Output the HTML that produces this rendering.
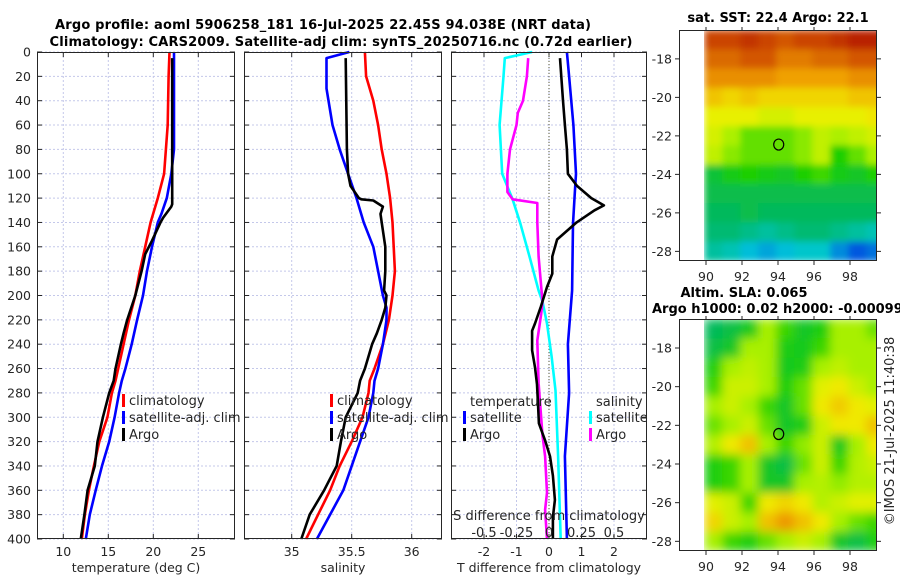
<!DOCTYPE html>
<html><head><meta charset="utf-8"><style>
html,body{margin:0;padding:0;background:#fff;}
svg{display:block;font-family:"DejaVu Sans","Liberation Sans",sans-serif;}
</style></head><body>
<svg id="fig" width="900" height="580" viewBox="0 0 900 580" xmlns="http://www.w3.org/2000/svg">
<defs>
<filter id="blurSst" x="0" y="0" width="1" height="1"><feGaussianBlur stdDeviation="3.5" edgeMode="duplicate"/></filter>
<filter id="blurSla" x="0" y="0" width="1" height="1"><feGaussianBlur stdDeviation="5" edgeMode="duplicate"/></filter>
<clipPath id="clipMap1"><rect x="704" y="30" width="173" height="231"/></clipPath>
<clipPath id="clipMap2"><rect x="704" y="319" width="173" height="232"/></clipPath>
</defs>
<text x="323" y="29" font-size="13" font-weight="bold" text-anchor="middle" textLength="536" fill="#000">Argo profile: aoml 5906258_181 16-Jul-2025 22.45S 94.038E (NRT data)</text>
<text x="341" y="46" font-size="13" font-weight="bold" text-anchor="middle" textLength="583" fill="#000">Climatology: CARS2009. Satellite-adj clim: synTS_20250716.nc (0.72d earlier)</text>
<text x="778" y="22" font-size="13" font-weight="bold" text-anchor="middle">sat. SST: 22.4 Argo: 22.1</text>
<text x="744" y="297" font-size="13" font-weight="bold" text-anchor="middle">Altim. SLA: 0.065</text>
<text x="652" y="313" font-size="13" font-weight="bold">Argo h1000: 0.02 h2000: -0.00099</text>
<text transform="translate(894,431) rotate(-90)" font-size="13" text-anchor="middle" fill="#262626">©IMOS 21-Jul-2025 11:40:38</text>
</svg>
<script>
// ---------- data ----------
const depthTicks = [0,20,40,60,80,100,120,140,160,180,200,220,240,260,280,300,320,340,360,380,400];
const tempTicks = [10,15,20,25];
const salTicks = [35,35.5,36];
const salTickLabels = ["35","35.5","36"];
const tdiffTicks = [-2,-1,0,1,2];
const sdiffTicks = [-0.5,-0.25,0,0.25,0.5];
const sdiffTickLabels = ["-0.5","-0.25","0","0.25","0.5"];

const tClimDepth = [0,20,60,100,120,140,160,180,200,220,240,260,270,280,300,320,340,360,380,400];
const tClimVal   = [21.8,21.7,21.6,21.2,20.5,19.7,19.1,18.5,18.0,17.3,16.7,16.1,15.8,15.4,14.9,14.0,13.4,12.85,12.4,12.05];
const tSatDepth = [0,80,100,120,133,140,160,180,200,220,240,260,270,280,300,320,340,360,380,400];
const tSatVal   = [22.3,22.3,22.0,21.5,20.9,20.5,19.85,19.3,18.85,18.2,17.6,16.9,16.5,16.2,15.7,15.1,14.3,13.6,12.95,12.5];
const tArgoDepth = [5,60,100,125,127,136,140,155,166,180,200,220,231,240,260,270,280,300,320,340,360,380,400];
const tArgoVal   = [22.1,22.1,22.1,22.1,22.0,21.1,20.8,19.85,19.1,18.7,18.0,17.1,16.7,16.4,15.8,15.6,15.1,14.4,13.8,13.5,12.7,12.35,11.95];

const sClimDepth = [0,20,40,60,80,100,120,140,160,180,200,220,240,260,270,280,300,320,340,360,380,400];
const sClimVal   = [35.61,35.62,35.68,35.72,35.75,35.79,35.82,35.84,35.85,35.86,35.84,35.81,35.76,35.69,35.65,35.64,35.59,35.50,35.40,35.32,35.22,35.12];
const sSatDepth = [0,5,30,60,80,100,120,140,160,180,200,210,220,240,260,270,280,300,320,340,360,380,400];
const sSatVal   = [35.48,35.29,35.29,35.34,35.40,35.47,35.54,35.60,35.68,35.72,35.76,35.79,35.79,35.76,35.72,35.69,35.68,35.64,35.57,35.50,35.43,35.32,35.21];
const sArgoDepth = [5,80,100,110,120,121,122,127,133,140,160,180,196,200,210,220,231,240,260,270,280,300,320,340,360,380,400];
const sArgoVal   = [35.45,35.46,35.47,35.49,35.56,35.58,35.68,35.76,35.74,35.75,35.78,35.78,35.77,35.79,35.78,35.75,35.71,35.67,35.61,35.57,35.55,35.45,35.41,35.375,35.27,35.15,35.08];

const dTSatDepth = [0,20,60,100,113,141,196,240,280,332,400];
const dTSatVal   = [0.55,0.62,0.75,0.83,0.8,0.74,0.71,0.58,0.62,0.49,0.55];
const dTArgoDepth = [5,40,60,80,100,110,120,126,130,140,154,168,182,193,209,223,229,245,259,273,289,305,319,332,348,368,382,400];
const dTArgoVal   = [0.34,0.43,0.49,0.55,0.58,0.86,1.3,1.69,1.4,0.85,0.25,0.1,0.1,-0.06,-0.25,-0.43,-0.52,-0.52,-0.43,-0.37,-0.34,-0.31,-0.12,0.03,0.12,0.18,0.12,0.12];
const dSSatDepth = [0,5,20,60,100,121,141,168,196,205,223,250,278,332,400];
const dSSatVal   = [-0.13,-0.34,-0.35,-0.38,-0.36,-0.28,-0.22,-0.15,-0.08,-0.05,-0.015,0.02,0.05,0.07,0.09];
const dSArgoDepth = [5,20,40,50,60,80,100,115,121,124,140,168,205,215,237,272,315,332,362,376,400];
const dSArgoVal   = [-0.16,-0.17,-0.2,-0.24,-0.25,-0.30,-0.32,-0.32,-0.28,-0.09,-0.09,-0.08,-0.05,-0.06,-0.09,-0.08,-0.05,-0.03,-0.015,-0.03,-0.015];

const mapLonTicks = [90,92,94,96,98];
const mapLatTicks = [-18,-20,-22,-24,-26,-28];
const gridLonStart = [89.9,90.9,91.9,92.9,93.9,94.9,95.9,96.9,97.9,98.9];
const gridLatTop = [-16.5,-17.5,-18.5,-19.5,-20.5,-21.5,-22.5,-23.5,-24.5,-25.5,-26.5,-27.5];
const sstValues = [
 [24.3,24.3,24.4,24.3,24.2,24.3,24.3,24.4,24.5,24.5],
 [24.1,24.1,24.2,24.2,24.0,24.0,24.1,24.1,24.2,24.2],
 [23.9,23.9,23.9,23.9,23.8,23.8,23.8,23.8,23.9,23.9],
 [23.6,23.5,23.6,23.5,23.5,23.5,23.5,23.5,23.6,23.6],
 [23.3,23.3,23.3,23.2,23.2,23.3,23.3,23.3,23.3,23.4],
 [23.2,23.0,22.8,22.8,22.8,22.9,23.1,23.0,23.1,23.2],
 [23.1,22.9,22.8,22.8,22.8,22.9,23.1,22.6,22.8,23.0],
 [22.3,22.5,22.6,22.5,22.4,22.6,22.7,22.5,22.4,22.6],
 [22.2,22.2,22.2,22.2,22.2,22.2,22.2,22.2,22.2,22.2],
 [22.1,22.1,22.2,22.1,22.1,22.1,22.1,22.1,22.1,22.1],
 [22.0,22.0,21.9,21.8,21.9,22.0,22.0,21.9,21.8,21.7],
 [21.8,21.7,21.5,21.4,21.5,21.6,21.6,21.3,21.1,21.2]];
const slaValues = [
 [0.40,0.42,0.46,0.55,0.50,0.45,0.48,0.55,0.55,0.52],
 [0.42,0.45,0.55,0.55,0.47,0.46,0.50,0.55,0.55,0.55],
 [0.48,0.55,0.57,0.55,0.46,0.47,0.55,0.57,0.55,0.55],
 [0.50,0.58,0.58,0.55,0.48,0.52,0.60,0.62,0.58,0.55],
 [0.55,0.58,0.55,0.50,0.45,0.52,0.62,0.65,0.62,0.60],
 [0.52,0.55,0.58,0.52,0.45,0.47,0.58,0.62,0.62,0.66],
 [0.56,0.62,0.66,0.55,0.50,0.54,0.58,0.46,0.55,0.62],
 [0.48,0.50,0.55,0.45,0.42,0.52,0.58,0.50,0.56,0.58],
 [0.48,0.50,0.55,0.45,0.45,0.55,0.56,0.54,0.56,0.56],
 [0.60,0.58,0.50,0.62,0.64,0.62,0.56,0.58,0.60,0.60],
 [0.64,0.58,0.55,0.66,0.70,0.66,0.62,0.55,0.52,0.50],
 [0.55,0.50,0.48,0.52,0.55,0.58,0.55,0.45,0.42,0.48]];
const argoLon = [94.04];
const argoLat = [-22.45];

// ---------- helpers ----------
const NS = "http://www.w3.org/2000/svg";
const svg = document.getElementById('fig');
function mk(tag, attrs, parent){
  const e = document.createElementNS(NS, tag);
  for (const k in attrs) e.setAttribute(k, attrs[k]);
  (parent||svg).appendChild(e);
  return e;
}
function lin(d0,d1,r0,r1){ return v => r0 + (v-d0)*(r1-r0)/(d1-d0); }
const Y0 = 52, Y1 = 539;
const yDepth = lin(0,400,Y0,Y1);
const GRID = "#c4c8ea";

function panel(name, x0, x1, xScale, xTicks, xLabels, title, yLabels){
  const g = mk('g', {});
  
  
  depthTicks.forEach(d => {
    const l = mk('line', {x1:x0, x2:x1, y1:yDepth(d), y2:yDepth(d), stroke:GRID, 'stroke-width':1, 'stroke-dasharray':'2,2'}, g);
    
    
    const t1 = mk('line', {x1:x0, x2:x0+5, y1:yDepth(d), y2:yDepth(d), stroke:'#262626'}, g);
    
    
    const t2 = mk('line', {x1:x1-5, x2:x1, y1:yDepth(d), y2:yDepth(d), stroke:'#262626'}, g);
    
    
    if (yLabels){
      const tx = mk('text', {x:x0-6, y:yDepth(d)+4.5, 'font-size':12.5, 'text-anchor':'end', fill:'#262626'}, g);
      tx.textContent = String(d);
      
      
    }
  });
  xTicks.forEach((v,i) => {
    const x = xScale(v);
    const l = mk('line', {x1:x, x2:x, y1:Y0, y2:Y1, stroke:GRID, 'stroke-width':1, 'stroke-dasharray':'2,2'}, g);
    
    
    const t = mk('line', {x1:x, x2:x, y1:Y1-5, y2:Y1, stroke:'#262626'}, g);
    
    
    const tt = mk('line', {x1:x, x2:x, y1:Y0, y2:Y0+5, stroke:'#262626'}, g);
    
    
    const tx = mk('text', {x:x, y:556, 'font-size':12.5, 'text-anchor':'middle', fill:'#262626'}, g);
    tx.textContent = xLabels[i];
    
    
  });
  const tl = mk('text', {x:(x0+x1)/2, y:572, 'font-size':12.5, 'text-anchor':'middle', fill:'#262626'}, g);
  tl.textContent = title;
  
  
  return g;
}
function frame(name, x0, x1){
  const r = mk('rect', {x:x0+0.5, y:Y0+0.5, width:x1-x0-1, height:Y1-Y0-1, fill:'none', stroke:'#262626', 'stroke-width':1});
  
  
}
function series(name, g, depths, vals, xScale, color){
  const pts = depths.map((d,i) => xScale(vals[i]).toFixed(1)+','+yDepth(d).toFixed(1)).join(' ');
  const p = mk('polyline', {points:pts, fill:'none', stroke:color, 'stroke-width':2.6, 'stroke-linejoin':'round'}, g);
  
  
}
function legendEntry(name, g, x, y, color, label){
  const b = mk('rect', {x:x, y:y-11, width:3, height:13, fill:color}, g);
  
  
  const t = mk('text', {x:x+7, y:y, 'font-size':13, fill:'#262626'}, g);
  t.textContent = label;
  
  
}

// ---------- panel 1: temperature ----------
const xT = lin(10,25,63.3,198.3);
const p1 = panel('temperature-panel', 37, 235, xT, tempTicks, tempTicks.map(String), 'temperature (deg C)', true);
series('temp-climatology-line', p1, tClimDepth, tClimVal, xT, '#ff0000');
series('temp-satellite-line', p1, tSatDepth, tSatVal, xT, '#0000ff');
series('temp-argo-line', p1, tArgoDepth, tArgoVal, xT, '#000000');
legendEntry('legend-climatology', p1, 122, 405, '#ff0000', 'climatology');
legendEntry('legend-satellite-adj', p1, 122, 422, '#0000ff', 'satellite-adj. clim');
legendEntry('legend-argo', p1, 122, 439, '#000000', 'Argo');
frame('temperature-frame', 37, 235);

// ---------- panel 2: salinity ----------
const xS = lin(35,36,291.7,411.7);
const p2 = panel('salinity-panel', 244, 442, xS, salTicks, salTickLabels, 'salinity', false);
series('sal-climatology-line', p2, sClimDepth, sClimVal, xS, '#ff0000');
series('sal-satellite-line', p2, sSatDepth, sSatVal, xS, '#0000ff');
series('sal-argo-line', p2, sArgoDepth, sArgoVal, xS, '#000000');
legendEntry('legend-climatology-2', p2, 330, 405, '#ff0000', 'climatology');
legendEntry('legend-satellite-adj-2', p2, 330, 422, '#0000ff', 'satellite-adj. clim');
legendEntry('legend-argo-2', p2, 330, 439, '#000000', 'Argo');
frame('salinity-frame', 244, 442);

// ---------- panel 3: differences ----------
const xDT = lin(0,1,549,581.5);
const xDS = lin(0,0.25,549,581.5);
const p3 = panel('difference-panel', 451, 647, xDT, tdiffTicks, tdiffTicks.map(String), 'T difference from climatology', false);
const zl = mk('line', {x1:xDT(0), x2:xDT(0), y1:Y0, y2:Y1, stroke:'#5a5a3a', 'stroke-width':1, 'stroke-dasharray':'1,2'}, p3);


series('sdiff-satellite-line', p3, dSSatDepth, dSSatVal, xDS, '#00ffff');
series('sdiff-argo-line', p3, dSArgoDepth, dSArgoVal, xDS, '#ff00ff');
series('tdiff-satellite-line', p3, dTSatDepth, dTSatVal, xDT, '#0000ff');
series('tdiff-argo-line', p3, dTArgoDepth, dTArgoVal, xDT, '#000000');
const lt = mk('text', {x:470, y:406, 'font-size':13, fill:'#262626'}, p3);
lt.textContent = 'temperature';


const ls = mk('text', {x:596, y:406, 'font-size':13, fill:'#262626'}, p3);
ls.textContent = 'salinity';


legendEntry('legend-t-satellite', p3, 463, 422, '#0000ff', 'satellite');
legendEntry('legend-t-argo', p3, 463, 439, '#000000', 'Argo');
legendEntry('legend-s-satellite', p3, 589, 422, '#00ffff', 'satellite');
legendEntry('legend-s-argo', p3, 589, 439, '#ff00ff', 'Argo');
const st = mk('text', {x:549, y:520, 'font-size':13, 'text-anchor':'middle', fill:'#262626'}, p3);
st.textContent = 'S difference from climatology';


sdiffTicks.forEach((v,i) => {
  const t = mk('text', {x:xDS(v), y:537, 'font-size':13, 'text-anchor':'middle', fill:'#262626'}, p3);
  t.textContent = sdiffTickLabels[i];
  
  
});
frame('difference-frame', 451, 647);

// ---------- maps ----------
const cmapStops = [[0,[0,64,224]],[0.15,[0,200,216]],[0.3,[0,184,96]],[0.45,[32,208,0]],[0.55,[168,240,0]],[0.65,[240,240,0]],[0.78,[240,160,0]],[0.9,[208,80,0]],[1,[176,16,0]]];
function cmap(t){
  t = Math.max(0, Math.min(1, t));
  for (let i=1;i<cmapStops.length;i++){
    if (t <= cmapStops[i][0]){
      const a = cmapStops[i-1], b = cmapStops[i];
      const f = (t-a[0])/(b[0]-a[0]);
      const c = a[1].map((v,k) => Math.round(v + (b[1][k]-v)*f));
      return 'rgb('+c.join(',')+')';
    }
  }
  return 'rgb(176,16,0)';
}
function drawMap(name, top, bottom, values, norm, clipId, filterId){
  const xLon = lin(90,98,706,850);
  const yLat = lin(-16.5,-28.5,top,bottom);
  const g = mk('g', {});
  
  
  const clipG = mk('g', {'clip-path':'url(#'+clipId+')'}, g);
  const cells = mk('g', {filter:'url(#'+filterId+')'}, clipG);
  values.forEach((row,r) => row.forEach((v,c) => {
    const x = xLon(gridLonStart[c]), y = yLat(gridLatTop[r]);
    const cell = mk('rect', {x:x.toFixed(2), y:y.toFixed(2), width:(xLon(gridLonStart[c]+1)-x+0.6).toFixed(2), height:(yLat(gridLatTop[r]-1)-y+0.6).toFixed(2), fill:cmap(norm(v))}, cells);
    
    
  }));
  const fr = mk('rect', {x:679.5, y:top+0.5, width:197, height:bottom-top-1, fill:'none', stroke:'#262626'}, g);
  
  
  mapLonTicks.forEach(v => {
    const t = mk('line', {x1:xLon(v), x2:xLon(v), y1:bottom, y2:bottom+4, stroke:'#262626'}, g);
    
    
    const t2 = mk('line', {x1:xLon(v), x2:xLon(v), y1:top-3, y2:top, stroke:'#262626'}, g);
    
    
    const tx = mk('text', {x:xLon(v), y:bottom+20, 'font-size':12.5, 'text-anchor':'middle', fill:'#262626'}, g);
    tx.textContent = String(v);
    
    
  });
  mapLatTicks.forEach(v => {
    const y = yLat(v);
    const t = mk('line', {x1:675, x2:679, y1:y, y2:y, stroke:'#262626'}, g);
    
    
    const t2 = mk('line', {x1:877, x2:881, y1:y, y2:y, stroke:'#262626'}, g);
    
    
    const tx = mk('text', {x:672, y:y+4.5, 'font-size':12.5, 'text-anchor':'end', fill:'#262626'}, g);
    tx.textContent = String(v);
    
    
  });
  const m = mk('ellipse', {cx:xLon(argoLon[0]), cy:yLat(argoLat[0]), rx:5, ry:5.5, fill:'none', stroke:'#000', 'stroke-width':1.2}, g);
  
  
}
drawMap('sst-map', 30, 261, sstValues, v => (v-21)/(24.6-21), 'clipMap1', 'blurSst');
drawMap('sla-map', 319, 551, slaValues, v => 0.55 + (v-0.55)*1.6, 'clipMap2', 'blurSla');
</script>
</body></html>
